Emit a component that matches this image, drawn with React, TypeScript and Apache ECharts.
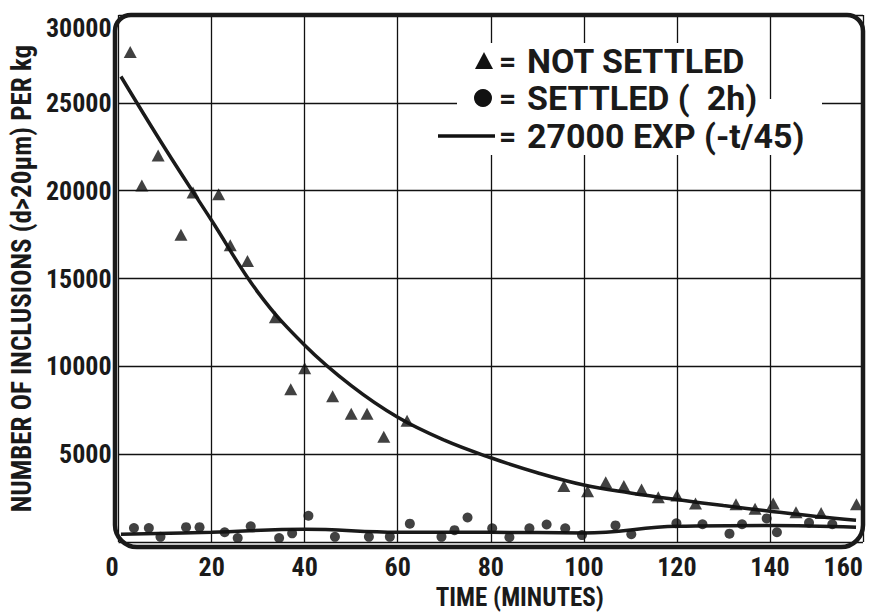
import { useEffect, useRef } from "react";
import * as echarts from "echarts";

// Triangles: not settled [time (min), inclusions per kg]
const notSettled: [number, number][] = [
  [2.5, 27900], [5, 20300], [8.5, 22000], [13.4, 17500], [16, 19900],
  [21.5, 19800], [24, 16900], [27.7, 16000], [33.7, 12800], [37, 8700],
  [40, 9900], [46, 8300], [50, 7300], [53.4, 7300], [57, 6000],
  [62, 6900], [95.7, 3200], [100.8, 2900], [104.7, 3400], [108.6, 3200],
  [112.4, 3000], [116, 2550], [120, 2650], [124, 2200], [132.7, 2150],
  [136.8, 1900], [140.7, 2200], [145.6, 1700], [151, 1650], [158.6, 2150],
];

// Circles: settled (2h)
const settled: [number, number][] = [
  [3.3, 800], [6.5, 800], [9, 300], [14.5, 850], [17.4, 850],
  [22.8, 560], [25.6, 230], [28.4, 900], [34.5, 230], [37.3, 500],
  [40.8, 1500], [46.5, 300], [53.8, 300], [58.3, 300], [62.6, 1050],
  [69.4, 300], [72.2, 680], [75, 1400], [80.3, 790], [84, 280],
  [88.3, 790], [92, 1000], [96, 790], [99.6, 400], [106.8, 950],
  [110.2, 450], [119.9, 1070], [125.5, 1015], [131.3, 480], [134, 1015],
  [139.3, 1350], [141.5, 560], [148.4, 1100], [153.4, 1015],
];

// Fitted curve "27000 EXP (-t/45)"
const fitCurve: [number, number][] = [
  [0.5, 26500], [10, 22400], [20, 18300], [30, 14200], [40, 11200],
  [50, 8900], [60, 7100], [70, 5800], [80, 4800], [90, 3950],
  [100, 3250], [110, 2800], [120, 2420], [130, 2080], [140, 1760],
  [150, 1460], [158.5, 1250],
];

// Trend line through settled points
const settledCurve: [number, number][] = [
  [0.5, 450], [20, 560], [40, 730], [60, 560], [80, 560],
  [100, 520], [120, 900], [140, 950], [158.5, 850],
];

const xMin = 0, xMax = 160, xStep = 20;
const yMin = 0, yMax = 30000, yStep = 5000;

const legendLabels = ["NOT SETTLED", "SETTLED (  2h)", "27000 EXP (-t/45)"];
const xTitle = "TIME (MINUTES)";
const yTitle = "NUMBER OF INCLUSIONS (d>20\u00b5m) PER kg";

const CFONT = "'Roboto Condensed', 'Open Sans Condensed', sans-serif";
const LFONT = "Roboto, sans-serif";
const INK = "#1a1a1a";

export default function App() {
  const ref = useRef<HTMLDivElement>(null);
  useEffect(() => {
    const chart = echarts.init(ref.current!, null, { renderer: "svg" });
    const gl = 115, gt = 15, gw = 748, gh = 532;
    const legendY = [61, 98, 136];
    chart.setOption({
      animation: false,
      backgroundColor: "#fff",
      grid: { left: gl, top: gt, width: gw, height: gh, show: false },
      xAxis: {
        type: "value",
        min: xMin,
        max: xMax,
        interval: xStep,
        name: xTitle,
        nameLocation: "middle",
        nameGap: 40,
        nameTextStyle: {
          fontFamily: CFONT, fontWeight: "bold", fontSize: 25, color: INK,
          padding: [0, 0, 0, 58],
        },
        axisLine: { show: false },
        axisTick: { show: false },
        axisLabel: {
          fontFamily: CFONT, fontWeight: "bold", fontSize: 26, color: INK,
          margin: 12, alignMinLabel: "right", alignMaxLabel: "right",
          formatter: (v: number) => String(v),
        },
        splitLine: { show: true, lineStyle: { color: "#111", width: 1.3 } },
      },
      yAxis: {
        type: "value",
        min: yMin,
        max: yMax,
        interval: yStep,
        name: yTitle,
        nameLocation: "middle",
        nameRotate: 90,
        nameGap: 68,
        nameTextStyle: { fontFamily: CFONT, fontWeight: "bold", fontSize: 27, color: INK },
        axisLine: { show: false },
        axisTick: { show: false },
        axisLabel: {
          fontFamily: CFONT, fontWeight: "bold", fontSize: 26, color: INK,
          margin: 7, verticalAlignMaxLabel: "top",
          formatter: (v: number) => (v === 0 ? "" : String(v)),
        },
        splitLine: { show: true, lineStyle: { color: "#111", width: 1.3 } },
      },
      series: [
        {
          name: "27000 EXP (-t/45)",
          type: "line",
          data: fitCurve,
          smooth: 0.4,
          showSymbol: false,
          lineStyle: { color: INK, width: 3.5 },
          z: 3,
        },
        {
          name: "settled trend",
          type: "line",
          data: settledCurve,
          smooth: 0.4,
          showSymbol: false,
          lineStyle: { color: INK, width: 3.5 },
          z: 3,
        },
        {
          name: "NOT SETTLED",
          type: "scatter",
          data: notSettled,
          symbol: "triangle",
          symbolSize: [13, 12],
          itemStyle: { color: "#111" },
          z: 4,
        },
        {
          name: "SETTLED (  2h)",
          type: "scatter",
          data: settled,
          symbol: "circle",
          symbolSize: 10,
          itemStyle: { color: "#111" },
          z: 4,
        },
      ],
      graphic: [
        // white patches behind legend
        { type: "rect", z: 50, shape: { x: 457, y: 43, width: 303, height: 112 }, style: { fill: "#fff" } },
        { type: "rect", z: 50, shape: { x: 760, y: 99, width: 62, height: 56 }, style: { fill: "#fff" } },
        // legend symbols
        {
          type: "polygon", z: 60,
          shape: { points: [[475, legendY[0] + 8], [493, legendY[0] + 8], [484, legendY[0] - 9]] },
          style: { fill: "#111" },
        },
        { type: "circle", z: 60, shape: { cx: 483, cy: legendY[1], r: 9 }, style: { fill: "#111" } },
        {
          type: "line", z: 60,
          shape: { x1: 438, y1: legendY[2], x2: 495, y2: legendY[2] },
          style: { stroke: "#111", lineWidth: 3.5 },
        },
        ...legendY.map((y) => ({
          type: "text", z: 60, x: 499, y,
          style: { text: "=", fontFamily: LFONT, fontWeight: "bold", fontSize: 30, lineHeight: 28, fill: INK, verticalAlign: "middle", align: "left" },
        })),
        ...legendLabels.map((t, i) => ({
          type: "text", z: 60, x: 527, y: legendY[i],
          style: { text: t, fontFamily: LFONT, fontWeight: "bold", fontSize: 34, lineHeight: 30, fill: INK, verticalAlign: "middle", align: "left" },
        })),
        // rounded frame
        {
          type: "rect", z: 70,
          shape: { x: gl, y: gt, width: gw, height: gh, r: [16, 16, 22, 22] },
          style: { fill: "none", stroke: INK, lineWidth: 4.5 },
        },
      ],
    });
    return () => chart.dispose();
  }, []);
  return <div ref={ref} style={{ position: "fixed", left: 0, top: 0, width: 869, height: 615 }} />;
}
